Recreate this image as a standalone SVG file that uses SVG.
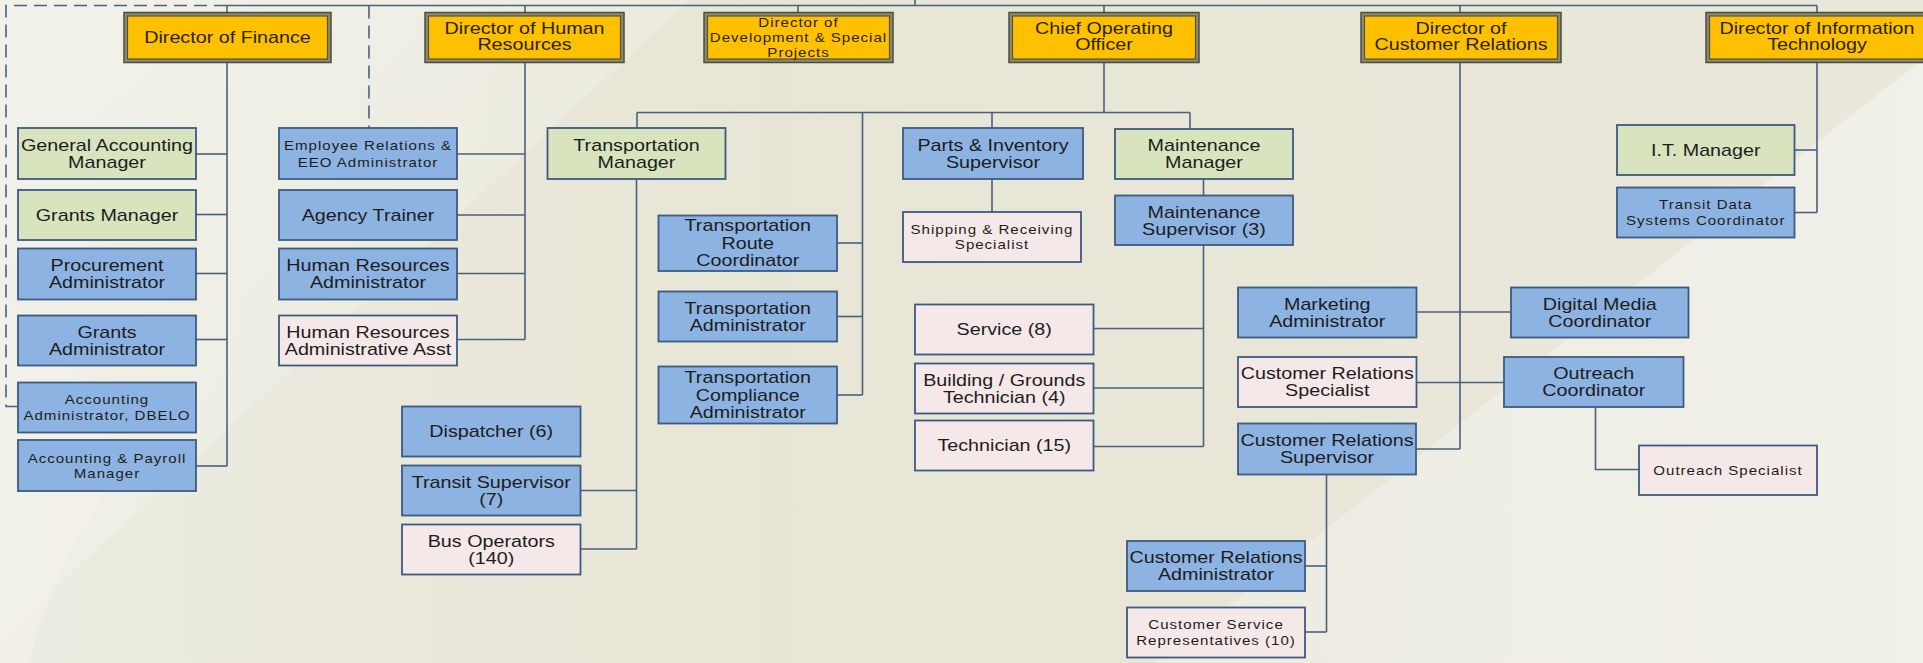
<svg xmlns="http://www.w3.org/2000/svg" width="1923" height="663" viewBox="0 0 1923 663">
<style>
.conn{stroke:#4B5F7E;stroke-width:1.6;fill:none}
.dash{stroke-dasharray:13 7}
.box{stroke:#3D5A80;stroke-width:1.8}
.green{fill:#D7E4BD}
.blue{fill:#8DB3E2}
.pink{fill:#F5E8E8}
.dirO{fill:#8E8B6C;stroke:#4E4D3A;stroke-width:1.5}
.dirI{fill:#FFC000;stroke:#55533D;stroke-width:1.2}
.t{font-family:"Liberation Sans",Arial,sans-serif;font-size:17px;fill:#1d1d1d;text-anchor:middle}
.s{font-size:13px;letter-spacing:0.85px}
.d{fill:#2b2200}
</style>
<defs>
<linearGradient id="bg" x1="0" y1="0" x2="1" y2="0">
<stop offset="0" stop-color="#EDECE2"/>
<stop offset="0.4" stop-color="#E7E5D5"/>
<stop offset="1" stop-color="#EAE8DB"/>
</linearGradient>
<linearGradient id="lt" x1="0" y1="0" x2="1" y2="1">
<stop offset="0" stop-color="#F4F3EC" stop-opacity="0.8"/>
<stop offset="0.6" stop-color="#F4F3EC" stop-opacity="0.3"/>
<stop offset="1" stop-color="#F4F3EC" stop-opacity="0"/>
</linearGradient>
<linearGradient id="rt" x1="0" y1="0" x2="1" y2="0">
<stop offset="0" stop-color="#F2F1EA" stop-opacity="0.5"/>
<stop offset="1" stop-color="#F2F1EA" stop-opacity="0.9"/>
</linearGradient>
</defs>
<rect width="1923" height="663" fill="url(#bg)"/>
<polygon points="0,0 690,0 0,640" fill="url(#lt)"/>
<path d="M0,300 Q140,420 100,500 Q40,600 30,663 L0,663 Z" fill="#F3F2EB" opacity="0.6"/>
<polygon points="1923,59 1923,663 1156,663" fill="url(#rt)"/>

<g id="connectors">
<line class="conn" x1="915" y1="0" x2="915" y2="5.5"/>
<line class="conn" x1="227" y1="5.5" x2="1817" y2="5.5"/>
<polyline class="conn dash" points="227,5.5 6,5.5 6,406.5 18,406.5"/>
<line class="conn dash" x1="369" y1="5.5" x2="369" y2="128"/>
<line class="conn" x1="227" y1="5.5" x2="227" y2="12.5"/>
<line class="conn" x1="525" y1="5.5" x2="525" y2="12.5"/>
<line class="conn" x1="798" y1="5.5" x2="798" y2="12.5"/>
<line class="conn" x1="1104" y1="5.5" x2="1104" y2="12.5"/>
<line class="conn" x1="1460" y1="5.5" x2="1460" y2="12.5"/>
<line class="conn" x1="1817" y1="5.5" x2="1817" y2="12.5"/>
<line class="conn" x1="227" y1="62.5" x2="227" y2="466"/>
<line class="conn" x1="196" y1="154" x2="227" y2="154"/>
<line class="conn" x1="196" y1="214.5" x2="227" y2="214.5"/>
<line class="conn" x1="196" y1="273.5" x2="227" y2="273.5"/>
<line class="conn" x1="196" y1="339.5" x2="227" y2="339.5"/>
<line class="conn" x1="196" y1="466" x2="227" y2="466"/>
<line class="conn" x1="525" y1="62.5" x2="525" y2="339.5"/>
<line class="conn" x1="457" y1="154" x2="525" y2="154"/>
<line class="conn" x1="457" y1="215" x2="525" y2="215"/>
<line class="conn" x1="457" y1="273.5" x2="525" y2="273.5"/>
<line class="conn" x1="457" y1="339.5" x2="525" y2="339.5"/>
<line class="conn" x1="1104" y1="62.5" x2="1104" y2="112.5"/>
<line class="conn" x1="637" y1="112.5" x2="1190" y2="112.5"/>
<line class="conn" x1="637" y1="112.5" x2="637" y2="128"/>
<line class="conn" x1="992" y1="112.5" x2="992" y2="128"/>
<line class="conn" x1="1190" y1="112.5" x2="1190" y2="129"/>
<line class="conn" x1="862.5" y1="112.5" x2="862.5" y2="395"/>
<line class="conn" x1="837" y1="243" x2="862.5" y2="243"/>
<line class="conn" x1="837" y1="316.5" x2="862.5" y2="316.5"/>
<line class="conn" x1="837" y1="395" x2="862.5" y2="395"/>
<line class="conn" x1="636.5" y1="179" x2="636.5" y2="549"/>
<line class="conn" x1="580.5" y1="490.5" x2="636.5" y2="490.5"/>
<line class="conn" x1="580.5" y1="549" x2="636.5" y2="549"/>
<line class="conn" x1="992" y1="179" x2="992" y2="212"/>
<line class="conn" x1="1203.5" y1="179" x2="1203.5" y2="195.5"/>
<line class="conn" x1="1203.5" y1="245" x2="1203.5" y2="446.5"/>
<line class="conn" x1="1093.5" y1="328.5" x2="1203.5" y2="328.5"/>
<line class="conn" x1="1093.5" y1="388" x2="1203.5" y2="388"/>
<line class="conn" x1="1093.5" y1="446.5" x2="1203.5" y2="446.5"/>
<line class="conn" x1="1460" y1="62.5" x2="1460" y2="449"/>
<line class="conn" x1="1416.5" y1="312" x2="1511" y2="312"/>
<line class="conn" x1="1416.5" y1="382.5" x2="1504" y2="382.5"/>
<line class="conn" x1="1416" y1="449" x2="1460" y2="449"/>
<polyline class="conn" points="1595.5,407 1595.5,469.5 1639,469.5"/>
<line class="conn" x1="1326.5" y1="474.5" x2="1326.5" y2="632"/>
<line class="conn" x1="1305" y1="566" x2="1326.5" y2="566"/>
<line class="conn" x1="1305" y1="632" x2="1326.5" y2="632"/>
<line class="conn" x1="1817" y1="62.5" x2="1817" y2="212.5"/>
<line class="conn" x1="1794.5" y1="150" x2="1817" y2="150"/>
<line class="conn" x1="1794.5" y1="212.5" x2="1817" y2="212.5"/>
</g>

<g id="dir-finance"><rect class="dirO" x="124" y="12.5" width="207" height="50"/><rect class="dirI" x="127.5" y="16" width="200" height="43"/>
<text class="t d" transform="translate(227.5,0) scale(1.16,1)"><tspan x="0" y="43.5">Director of Finance</tspan></text></g>
<g id="dir-hr"><rect class="dirO" x="425" y="12.5" width="199" height="50"/><rect class="dirI" x="428.5" y="16" width="192" height="43"/>
<text class="t d" transform="translate(524.5,0) scale(1.16,1)"><tspan x="0" y="34">Director of Human</tspan><tspan x="0" y="50">Resources</tspan></text></g>
<g id="dir-dev"><rect class="dirO" x="704" y="12.5" width="189" height="50"/><rect class="dirI" x="707.5" y="16" width="182" height="43"/>
<text class="t s d" transform="translate(798.5,0) scale(1.16,1)"><tspan x="0" y="26.9">Director of</tspan><tspan x="0" y="42.2">Development &amp; Special</tspan><tspan x="0" y="57.5">Projects</tspan></text></g>
<g id="dir-coo"><rect class="dirO" x="1009" y="12.5" width="190" height="50"/><rect class="dirI" x="1012.5" y="16" width="183" height="43"/>
<text class="t d" transform="translate(1104,0) scale(1.16,1)"><tspan x="0" y="34">Chief Operating</tspan><tspan x="0" y="50">Officer</tspan></text></g>
<g id="dir-cr"><rect class="dirO" x="1361" y="12.5" width="200" height="50"/><rect class="dirI" x="1364.5" y="16" width="193" height="43"/>
<text class="t d" transform="translate(1461,0) scale(1.16,1)"><tspan x="0" y="34">Director of</tspan><tspan x="0" y="50">Customer Relations</tspan></text></g>
<g id="dir-it"><rect class="dirO" x="1706" y="12.5" width="222" height="50"/><rect class="dirI" x="1709.5" y="16" width="215" height="43"/>
<text class="t d" transform="translate(1817,0) scale(1.16,1)"><tspan x="0" y="34">Director of Information</tspan><tspan x="0" y="50">Technology</tspan></text></g>

<g id="general-accounting-manager"><rect class="box green" x="18" y="128" width="178" height="51"/>
<text class="t" transform="translate(107,0) scale(1.16,1)"><tspan x="0" y="151">General Accounting</tspan><tspan x="0" y="168">Manager</tspan></text></g>
<g id="grants-manager"><rect class="box green" x="18" y="190" width="178" height="50"/>
<text class="t" transform="translate(107,0) scale(1.16,1)"><tspan x="0" y="221">Grants Manager</tspan></text></g>
<g id="procurement-administrator"><rect class="box blue" x="18" y="248.5" width="178" height="51"/>
<text class="t" transform="translate(107,0) scale(1.16,1)"><tspan x="0" y="271.5">Procurement</tspan><tspan x="0" y="288.5">Administrator</tspan></text></g>
<g id="grants-administrator"><rect class="box blue" x="18" y="315.5" width="178" height="50"/>
<text class="t" transform="translate(107,0) scale(1.16,1)"><tspan x="0" y="338">Grants</tspan><tspan x="0" y="355">Administrator</tspan></text></g>
<g id="accounting-administrator-dbelo"><rect class="box blue" x="18" y="382.5" width="178" height="50"/>
<text class="t s" transform="translate(107,0) scale(1.16,1)"><tspan x="0" y="404.2">Accounting</tspan><tspan x="0" y="420.2">Administrator, DBELO</tspan></text></g>
<g id="accounting-payroll-manager"><rect class="box blue" x="18" y="440" width="178" height="51"/>
<text class="t s" transform="translate(107,0) scale(1.16,1)"><tspan x="0" y="462.7">Accounting &amp; Payroll</tspan><tspan x="0" y="478.2">Manager</tspan></text></g>

<g id="employee-relations"><rect class="box blue" x="279" y="128" width="178" height="51"/>
<text class="t s" transform="translate(368,0) scale(1.16,1)"><tspan x="0" y="150.2">Employee Relations &amp;</tspan><tspan x="0" y="166.7">EEO Administrator</tspan></text></g>
<g id="agency-trainer"><rect class="box blue" x="279" y="190" width="178" height="50"/>
<text class="t" transform="translate(368,0) scale(1.16,1)"><tspan x="0" y="221">Agency Trainer</tspan></text></g>
<g id="hr-administrator"><rect class="box blue" x="279" y="248.5" width="178" height="51"/>
<text class="t" transform="translate(368,0) scale(1.16,1)"><tspan x="0" y="271.5">Human Resources</tspan><tspan x="0" y="288.5">Administrator</tspan></text></g>
<g id="hr-administrative-asst"><rect class="box pink" x="279" y="315.5" width="178" height="50"/>
<text class="t" transform="translate(368,0) scale(1.16,1)"><tspan x="0" y="338">Human Resources</tspan><tspan x="0" y="355">Administrative Asst</tspan></text></g>

<g id="transportation-manager"><rect class="box green" x="547.5" y="128" width="178" height="51"/>
<text class="t" transform="translate(636.5,0) scale(1.16,1)"><tspan x="0" y="151">Transportation</tspan><tspan x="0" y="168">Manager</tspan></text></g>
<g id="dispatcher"><rect class="box blue" x="402" y="406.5" width="178.5" height="50"/>
<text class="t" transform="translate(491.25,0) scale(1.16,1)"><tspan x="0" y="437.5">Dispatcher (6)</tspan></text></g>
<g id="transit-supervisor"><rect class="box blue" x="402" y="465.5" width="178.5" height="50"/>
<text class="t" transform="translate(491.25,0) scale(1.16,1)"><tspan x="0" y="488">Transit Supervisor</tspan><tspan x="0" y="505">(7)</tspan></text></g>
<g id="bus-operators"><rect class="box pink" x="402" y="524.5" width="178.5" height="50"/>
<text class="t" transform="translate(491.25,0) scale(1.16,1)"><tspan x="0" y="547">Bus Operators</tspan><tspan x="0" y="564">(140)</tspan></text></g>
<g id="transportation-route-coordinator"><rect class="box blue" x="658.5" y="215.5" width="178.5" height="55.5"/>
<text class="t" transform="translate(747.75,0) scale(1.16,1)"><tspan x="0" y="231.5">Transportation</tspan><tspan x="0" y="249">Route</tspan><tspan x="0" y="266.5">Coordinator</tspan></text></g>
<g id="transportation-administrator"><rect class="box blue" x="658.5" y="291.5" width="178.5" height="50"/>
<text class="t" transform="translate(747.75,0) scale(1.16,1)"><tspan x="0" y="314">Transportation</tspan><tspan x="0" y="331">Administrator</tspan></text></g>
<g id="transportation-compliance-administrator"><rect class="box blue" x="658.5" y="366.5" width="178.5" height="57"/>
<text class="t" transform="translate(747.75,0) scale(1.16,1)"><tspan x="0" y="383.5">Transportation</tspan><tspan x="0" y="401">Compliance</tspan><tspan x="0" y="418.5">Administrator</tspan></text></g>

<g id="parts-inventory-supervisor"><rect class="box blue" x="903" y="128" width="180" height="51"/>
<text class="t" transform="translate(993,0) scale(1.16,1)"><tspan x="0" y="151">Parts &amp; Inventory</tspan><tspan x="0" y="168">Supervisor</tspan></text></g>
<g id="shipping-receiving-specialist"><rect class="box pink" x="903" y="212" width="178" height="50"/>
<text class="t s" transform="translate(992,0) scale(1.16,1)"><tspan x="0" y="234">Shipping &amp; Receiving</tspan><tspan x="0" y="249.5">Specialist</tspan></text></g>

<g id="maintenance-manager"><rect class="box green" x="1115" y="129" width="178" height="50"/>
<text class="t" transform="translate(1204,0) scale(1.16,1)"><tspan x="0" y="151.5">Maintenance</tspan><tspan x="0" y="168.5">Manager</tspan></text></g>
<g id="maintenance-supervisor"><rect class="box blue" x="1115" y="195.5" width="178" height="49.5"/>
<text class="t" transform="translate(1204,0) scale(1.16,1)"><tspan x="0" y="217.7">Maintenance</tspan><tspan x="0" y="234.7">Supervisor (3)</tspan></text></g>
<g id="service"><rect class="box pink" x="915" y="304.5" width="178.5" height="50"/>
<text class="t" transform="translate(1004.25,0) scale(1.16,1)"><tspan x="0" y="335.5">Service (8)</tspan></text></g>
<g id="building-grounds-technician"><rect class="box pink" x="915" y="363.5" width="178.5" height="50"/>
<text class="t" transform="translate(1004.25,0) scale(1.16,1)"><tspan x="0" y="386">Building / Grounds</tspan><tspan x="0" y="403">Technician (4)</tspan></text></g>
<g id="technician"><rect class="box pink" x="915" y="420.5" width="178.5" height="50"/>
<text class="t" transform="translate(1004.25,0) scale(1.16,1)"><tspan x="0" y="451.5">Technician (15)</tspan></text></g>

<g id="marketing-administrator"><rect class="box blue" x="1238" y="287.5" width="178.5" height="50"/>
<text class="t" transform="translate(1327.25,0) scale(1.16,1)"><tspan x="0" y="310">Marketing</tspan><tspan x="0" y="327">Administrator</tspan></text></g>
<g id="digital-media-coordinator"><rect class="box blue" x="1511" y="287.5" width="177.5" height="50"/>
<text class="t" transform="translate(1599.75,0) scale(1.16,1)"><tspan x="0" y="310">Digital Media</tspan><tspan x="0" y="327">Coordinator</tspan></text></g>
<g id="customer-relations-specialist"><rect class="box pink" x="1238" y="357" width="178.5" height="50"/>
<text class="t" transform="translate(1327.25,0) scale(1.16,1)"><tspan x="0" y="379.5">Customer Relations</tspan><tspan x="0" y="396.5">Specialist</tspan></text></g>
<g id="outreach-coordinator"><rect class="box blue" x="1504" y="357" width="179.5" height="50"/>
<text class="t" transform="translate(1593.75,0) scale(1.16,1)"><tspan x="0" y="379.5">Outreach</tspan><tspan x="0" y="396.5">Coordinator</tspan></text></g>
<g id="customer-relations-supervisor"><rect class="box blue" x="1238" y="423.5" width="178" height="51"/>
<text class="t" transform="translate(1327,0) scale(1.16,1)"><tspan x="0" y="446.5">Customer Relations</tspan><tspan x="0" y="463.5">Supervisor</tspan></text></g>
<g id="outreach-specialist"><rect class="box pink" x="1639" y="445.5" width="178" height="49.5"/>
<text class="t s" transform="translate(1728,0) scale(1.16,1)"><tspan x="0" y="475">Outreach Specialist</tspan></text></g>
<g id="customer-relations-administrator"><rect class="box blue" x="1127" y="541" width="178" height="50"/>
<text class="t" transform="translate(1216,0) scale(1.16,1)"><tspan x="0" y="563.5">Customer Relations</tspan><tspan x="0" y="580.5">Administrator</tspan></text></g>
<g id="customer-service-representatives"><rect class="box pink" x="1127" y="607.5" width="178" height="50"/>
<text class="t s" transform="translate(1216,0) scale(1.16,1)"><tspan x="0" y="629.5">Customer Service</tspan><tspan x="0" y="645.5">Representatives (10)</tspan></text></g>

<g id="it-manager"><rect class="box green" x="1617" y="125" width="177.5" height="50"/>
<text class="t" transform="translate(1705.75,0) scale(1.16,1)"><tspan x="0" y="156">I.T. Manager</tspan></text></g>
<g id="transit-data-systems-coordinator"><rect class="box blue" x="1617" y="187.5" width="177.5" height="50"/>
<text class="t s" transform="translate(1705.75,0) scale(1.16,1)"><tspan x="0" y="209.2">Transit Data</tspan><tspan x="0" y="225.2">Systems Coordinator</tspan></text></g>
</svg>
